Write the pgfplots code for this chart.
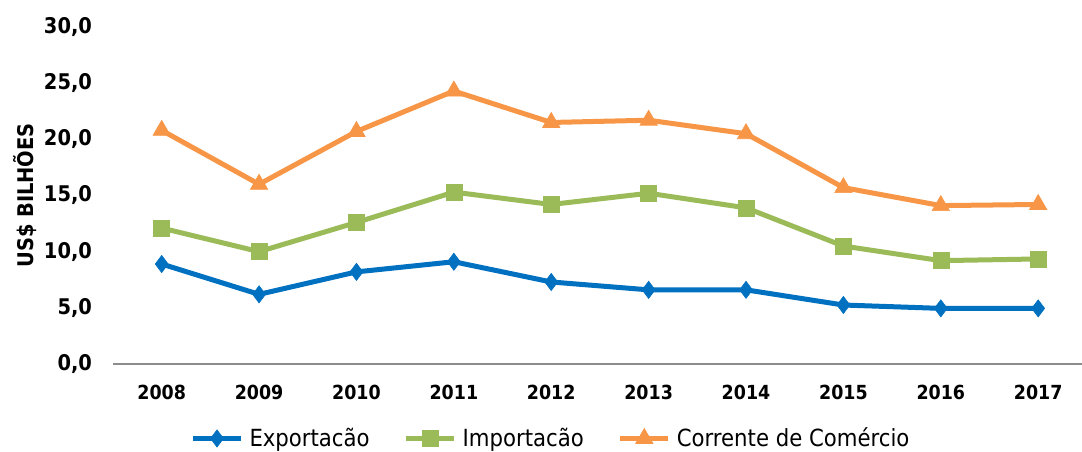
\documentclass[border=0pt]{standalone}
\usepackage{pgfplots}
\pgfplotsset{compat=1.18}
\usepackage{fontspec}
\setmainfont{DejaVu Sans Condensed}
\definecolor{cexp}{HTML}{0070C0}
\definecolor{cimp}{HTML}{9BBB59}
\definecolor{ccor}{HTML}{F79646}
\begin{document}
\begin{tikzpicture}
\begin{axis}[
  scale only axis,
  width=484.5pt, height=168.5pt,
  xmin=-0.5, xmax=9.45,
  ymin=0, ymax=30,
  xtick={0,...,9},
  xticklabels={2008,2009,2010,2011,2012,2013,2014,2015,2016,2017},
  ytick={0,5,...,30},
  yticklabel={\pgfmathprintnumber[fixed,fixed zerofill,precision=1,use comma]{\tick}},
  /pgf/number format/assume math mode=true,
  tick style={draw=none},
  axis x line*=bottom,
  axis y line*=left,
  y axis line style={draw=none},
  x axis line style={draw=black!45, line width=0.8pt, -},
  ticklabel style={font=\bfseries\fontsize{9.7}{11}\selectfont},
  yticklabel style={xshift=-7pt, font=\bfseries\fontsize{10.8}{12}\selectfont},
  xticklabel style={yshift=-7pt},
  ylabel={US\$ BILHÕES},
  ylabel style={at={(axis description cs:-0.0908,0.5)}, anchor=center, font=\bfseries\fontsize{10.8}{12}\selectfont},
  legend columns=-1,
  legend style={draw=none, at={(axis description cs:0.453,-0.221)}, anchor=center,
    font=\fontsize{11.8}{14}\selectfont,
    /tikz/every even column/.append style={column sep=15pt},
    /tikz/every odd column/.append style={column sep=1pt}},
  legend image code/.code={
    \draw[#1, mark repeat=2, mark phase=2] plot coordinates {(0pt,0pt) (12pt,0pt) (24pt,0pt)};
  },
  every axis plot/.append style={line width=2.5pt},
  clip=false,
]
\addplot[color=cexp, mark=diamond*, mark size=4.3pt, mark options={line width=0.3pt}] coordinates {
(0,8.9) (1,6.2) (2,8.2) (3,9.1) (4,7.3) (5,6.6) (6,6.6) (7,5.25) (8,4.95) (9,4.95)};
\addlegendentry{Exportacão}
\addplot[color=cimp, mark=square*, mark size=4pt, mark options={line width=0.3pt}] coordinates {
(0,12.1) (1,10.0) (2,12.6) (3,15.3) (4,14.2) (5,15.2) (6,13.9) (7,10.5) (8,9.2) (9,9.35)};
\addlegendentry{Importacão}
\addplot[color=ccor, mark=triangle*, mark size=5pt, mark options={line width=0.3pt}] coordinates {
(0,20.8) (1,16.0) (2,20.7) (3,24.3) (4,21.5) (5,21.7) (6,20.5) (7,15.7) (8,14.1) (9,14.2)};
\addlegendentry{Corrente de Comércio}
\coordinate (SW) at (rel axis cs:0,0);
\coordinate (NE) at (rel axis cs:1,1);
\end{axis}
\pgfresetboundingbox
\path[use as bounding box] ([xshift=-56.5pt,yshift=-44pt]SW) rectangle ([yshift=13.5pt]NE);
\end{tikzpicture}
\end{document}
